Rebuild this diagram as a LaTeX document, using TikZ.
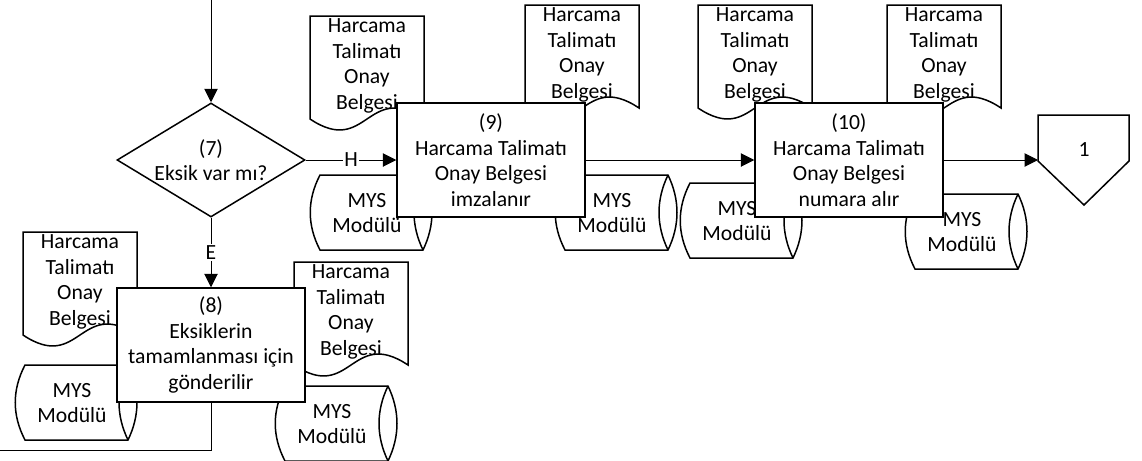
\documentclass[tikz,border=0pt]{standalone}
\usepackage{fontspec}
\setmainfont{Carlito}
\usetikzlibrary{shapes.geometric,arrows.meta,positioning,calc}

\tikzset{
  sekil/.style={draw, fill=white, line width=0.9pt},
  kutu/.style={draw, rectangle, fill=white, line width=0.9pt, align=center, inner sep=0pt,
    minimum width=112.8pt, minimum height=68.4pt},
  karar/.style={draw, diamond, fill=white, line width=0.9pt, align=center, inner sep=0pt,
    aspect=1.65, minimum width=112.8pt, minimum height=68.4pt},
  yazi/.style={align=center, inner sep=0pt},
  hat/.style={line width=0.6pt},
  ok/.style={hat, arrows={-Triangle[length=8pt,width=8pt]}},
  etiket/.style={fill=white, inner sep=1pt}
}

% belge sekli
\newcommand{\belge}[3]{%
  \begin{scope}[shift={(#2,#3)}]
    \draw[sekil] (0,0) -- (114,0) -- (114,103)
      .. controls (57,65) and (57,141) .. (0,103) -- cycle;
    \node[yazi] (#1) at (57,50) {Harcama\\Talimatı\\Onay\\Belgesi};
  \end{scope}}

% modul (veri deposu) sekli
\newcommand{\mys}[3]{%
  \begin{scope}[shift={(#2,#3)}]
    \draw[sekil] (0,0) -- (103,0) .. controls (115,25) and (115,50) .. (103,75)
      -- (0,75) .. controls (-13,50) and (-13,25) .. (0,0) -- cycle;
    \draw[sekil, fill=none] (103,0) .. controls (91,25) and (91,50) .. (103,75);
    \node[yazi] (#1) at (47,38) {MYS\\Modülü};
  \end{scope}}

\begin{document}
\begin{tikzpicture}[x=0.6pt, y=-0.6pt, font=\fontsize{13}{15.4}\selectfont]
  \useasboundingbox (0,0) rectangle (1142,461);
  % belgeler ve moduller
  \belge{b8a}{23}{232}
  \belge{b8b}{294}{262}
  \mys{m8a}{25}{365}
  \mys{m8b}{285}{386}
  \belge{b9a}{310}{16}
  \belge{b9b}{525}{5}
  \mys{m9a}{320}{175}
  \mys{m9b}{565}{175}
  \belge{b10a}{698}{5}
  \belge{b10b}{887}{5}
  \mys{m10a}{690}{183}
  \mys{m10b}{915}{194}
  % adimlar
  \node[karar] (k7) at (211,160) {(7)\\Eksik var mı?};
  \node[kutu] (k8) at (211,345) {(8)\\Eksiklerin\\tamamlanması için\\gönderilir};
  \node[kutu] (k9) at (491,160) {(9)\\Harcama Talimatı\\Onay Belgesi\\imzalanır};
  \node[kutu] (k10) at (849,160) {(10)\\Harcama Talimatı\\Onay Belgesi\\numara alır};
  % sayfa baglayici
  \draw[sekil] (1038,115) -- (1129,115) -- (1129,161) -- (1084,205) -- (1038,161) -- cycle;
  \node[yazi] (bag1) at (1084,150) {1};
  \coordinate (bag1giris) at (1038,160);
  \coordinate (giris) at (211,0);
  \coordinate (cikis) at (0,450);
  % baglantilar
  \draw[ok] (giris) -- (k7);
  \draw[ok] (k7) -- node[etiket] {H} (k9);
  \draw[ok] (k7) -- node[etiket] {E} (k8);
  \draw[ok] (k9) -- (k10);
  \draw[ok] (k10) -- (bag1giris);
  \draw[hat] (k8) -- (k8 |- cikis) -- (cikis);
\end{tikzpicture}
\end{document}
